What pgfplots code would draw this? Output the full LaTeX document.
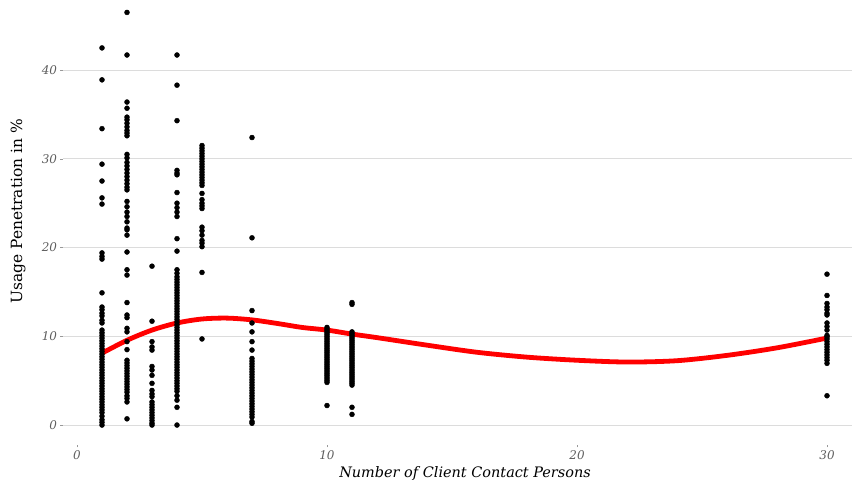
\documentclass[border=0pt]{standalone}
\usepackage{pgfplots}
\pgfplotsset{compat=1.18}
\usepackage{pgfplotstable}
\usepackage{fontspec}
\setmainfont{DejaVu Serif}
\definecolor{gridgray}{HTML}{DCDCDC}
\definecolor{ticktext}{HTML}{5E5E5E}

\pgfplotstableread{
x y
1 42.5
1 38.9
1 33.4
1 29.4
1 27.5
1 25.6
1 24.9
1 19.4
1 19.0
1 18.7
1 14.9
1 13.3
1 13.0
1 12.6
1 12.3
1 11.8
1 11.5
1 10.7
1 10.4
1 10.1
1 9.8
1 9.5
1 9.2
1 8.9
1 8.6
1 8.3
1 8.0
1 7.7
1 7.4
1 7.1
1 6.8
1 6.5
1 6.2
1 5.9
1 5.6
1 5.3
1 5.0
1 4.7
1 4.4
1 4.1
1 3.8
1 3.5
1 3.2
1 2.9
1 2.6
1 2.3
1 2.0
1 1.7
1 1.4
1 1.0
1 0.6
1 0.3
1 0.0
2 46.5
2 41.7
2 36.4
2 35.7
2 34.7
2 34.4
2 34.0
2 33.6
2 33.2
2 32.9
2 32.6
2 30.5
2 30.1
2 29.6
2 29.2
2 28.8
2 28.4
2 28.0
2 27.6
2 27.2
2 26.8
2 26.5
2 25.2
2 24.6
2 24.0
2 23.5
2 22.9
2 22.2
2 22.0
2 21.4
2 19.5
2 17.5
2 16.9
2 13.8
2 12.4
2 12.1
2 10.9
2 10.5
2 9.4
2 8.5
2 7.3
2 7.0
2 6.7
2 6.4
2 6.1
2 5.8
2 5.5
2 5.2
2 4.9
2 4.6
2 4.3
2 4.0
2 3.7
2 3.3
2 3.0
2 2.6
2 0.7
3 17.9
3 11.7
3 9.4
3 8.8
3 8.45
3 6.6
3 6.2
3 5.6
3 4.7
3 3.9
3 3.5
3 3.2
3 2.6
3 2.3
3 2.0
3 1.7
3 1.4
3 1.1
3 0.8
3 0.5
3 0.2
3 0.0
4 41.7
4 38.3
4 34.3
4 28.7
4 28.4
4 28.2
4 26.2
4 25.0
4 24.5
4 24.0
4 23.5
4 21.0
4 19.6
4 17.5
4 17.1
4 16.7
4 16.4
4 16.1
4 15.8
4 15.5
4 15.2
4 14.9
4 14.6
4 14.3
4 14.0
4 13.7
4 13.4
4 13.1
4 12.8
4 12.5
4 12.2
4 11.9
4 11.6
4 11.3
4 11.0
4 10.7
4 10.4
4 10.1
4 9.8
4 9.5
4 9.2
4 8.9
4 8.6
4 8.3
4 8.0
4 7.7
4 7.4
4 7.1
4 6.8
4 6.5
4 6.2
4 5.9
4 5.6
4 5.3
4 5.0
4 4.7
4 4.4
4 4.1
4 3.8
4 3.3
4 2.8
4 2.0
4 0.0
5 31.5
5 31.2
5 30.9
5 30.6
5 30.3
5 30.0
5 29.7
5 29.4
5 29.1
5 28.8
5 28.5
5 28.2
5 27.9
5 27.6
5 27.3
5 27.0
5 26.1
5 25.4
5 25.0
5 24.7
5 24.4
5 22.3
5 21.9
5 21.4
5 20.8
5 20.5
5 20.1
5 17.2
5 9.7
7 32.4
7 21.1
7 12.9
7 11.5
7 10.5
7 9.4
7 8.45
7 7.5
7 7.2
7 6.9
7 6.6
7 6.3
7 6.0
7 5.7
7 5.4
7 5.1
7 4.8
7 4.5
7 4.2
7 3.9
7 3.6
7 3.3
7 3.0
7 2.7
7 2.4
7 2.1
7 1.8
7 1.5
7 1.2
7 0.9
7 0.4
7 0.2
10 11.0
10 10.8
10 10.6
10 10.4
10 10.2
10 10.0
10 9.8
10 9.6
10 9.4
10 9.2
10 9.0
10 8.8
10 8.6
10 8.4
10 8.2
10 8.0
10 7.8
10 7.6
10 7.4
10 7.2
10 7.0
10 6.8
10 6.6
10 6.4
10 6.2
10 6.0
10 5.8
10 5.6
10 5.4
10 5.2
10 5.0
10 4.8
10 2.2
11 13.8
11 13.6
11 10.5
11 10.3
11 10.1
11 9.9
11 9.7
11 9.5
11 9.3
11 9.1
11 8.9
11 8.7
11 8.5
11 8.3
11 8.1
11 7.9
11 7.7
11 7.5
11 7.3
11 7.1
11 6.9
11 6.7
11 6.5
11 6.3
11 6.1
11 5.9
11 5.7
11 5.5
11 5.3
11 5.1
11 4.9
11 4.7
11 4.5
11 2.0
11 1.2
30 17.0
30 14.6
30 13.7
30 13.3
30 13.0
30 12.6
30 12.4
30 11.5
30 11.1
30 10.7
30 10.1
30 9.95
30 9.7
30 9.4
30 9.1
30 8.8
30 8.5
30 8.2
30 7.9
30 7.6
30 7.3
30 6.95
30 3.3
}\scatterdata

\pgfplotstableread{
x y
1 8.1
2 9.55
3 10.7
4 11.5
5 11.95
6 12.05
7 11.85
8 11.45
9 11.0
10 10.7
11 10.25
12 9.85
14 9.0
16 8.2
18 7.65
20 7.3
22 7.1
24 7.25
26 7.85
28 8.7
30 9.8
}\curvedata

\begin{document}
\begin{tikzpicture}
\path[use as bounding box] (-63bp,-42bp) rectangle (789bp,445bp);
\begin{axis}[
  scale only axis,
  width=789bp, height=445bp,
  xmin=-0.56, xmax=31, ymin=-2.25, ymax=47.9,
  axis line style={draw=none},
  ymajorgrids,
  grid style={color=gridgray, line width=0.9bp},
  xtick={0,10,20,30}, ytick={0,10,20,30,40},
  tick align=outside, major tick length=2.5bp,
  tick style={color=gray!80, line width=0.6bp},
  /pgf/number format/assume math mode=true,
  ticklabel style={font=\itshape\fontsize{12}{14}\selectfont, text=ticktext},
  xlabel={Number of Client Contact Persons},
  ylabel={Usage Penetration in \%},
  xlabel style={font=\itshape\fontsize{14.5}{16}\selectfont, at={(axis description cs:0.5095,0)}, anchor=center, yshift=-29bp},
  ylabel style={font=\fontsize{15.5}{17}\selectfont, at={(axis description cs:-0.057,0.525)}, anchor=center, rotate=0},
  clip=false,
]
\addplot[only marks, mark=*, mark size=2.5bp, draw=black, fill=black] table[x=x, y=y] {\scatterdata};
\addplot[red, line width=4.8bp, smooth, no markers] table[x=x, y=y] {\curvedata};
\end{axis}
\end{tikzpicture}
\end{document}
